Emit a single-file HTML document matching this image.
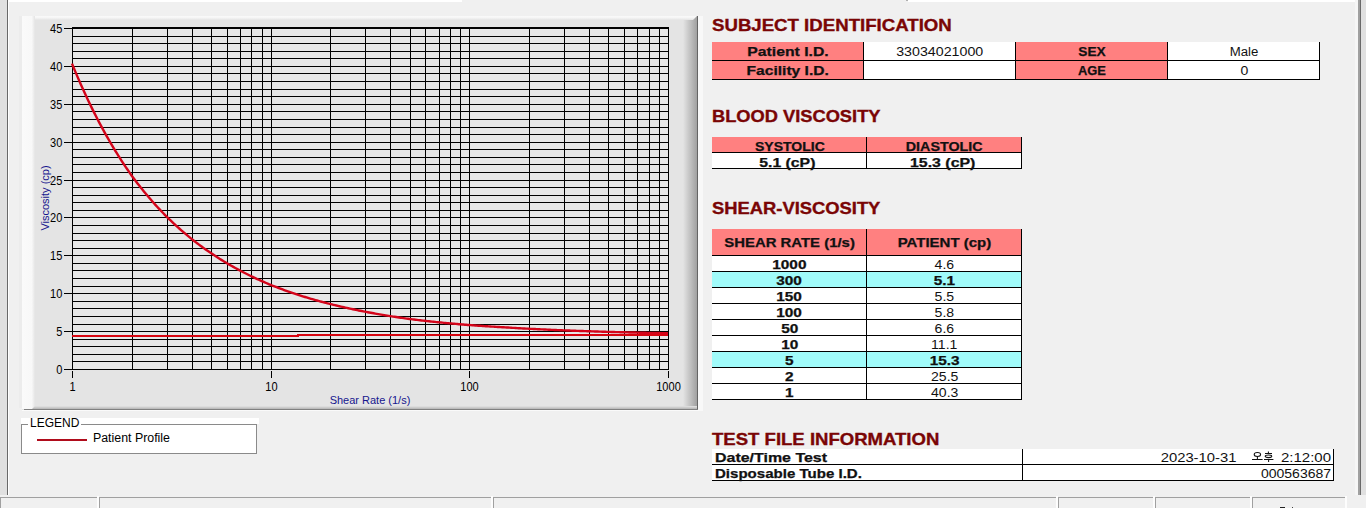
<!DOCTYPE html>
<html><head><meta charset="utf-8"><style>
*{margin:0;padding:0;box-sizing:border-box}
html,body{width:1366px;height:508px;overflow:hidden;background:#f0f0f0;font-family:"Liberation Sans",sans-serif}
.a{position:absolute}
.chart{position:absolute;left:0;top:0}
</style></head><body>
<div class="a" style="left:0;top:0;width:7px;height:495px;background:#e0e0e0"></div>
<div class="a" style="left:7px;top:0;width:1px;height:495px;background:#696969"></div>
<div class="a" style="left:8px;top:0;width:1px;height:495px;background:#fff"></div>
<div class="a" style="left:8px;top:0;width:454px;height:2px;background:#fff"></div>
<div class="a" style="left:908px;top:0;width:450px;height:2px;background:#fff"></div>
<div class="a" style="left:906px;top:0;width:2px;height:1px;background:#b0b0b0"></div>
<div class="a" style="left:1355px;top:0;width:3px;height:495px;background:#f6f6f6"></div>
<div class="a" style="left:1358px;top:0;width:2px;height:495px;background:#a0a0a0"></div>
<div class="a" style="left:1360px;top:0;width:1px;height:495px;background:#696969"></div>
<div class="a" style="left:1361px;top:0;width:5px;height:495px;background:#e0e0e0"></div>
<svg class="chart" width="1366" height="508" viewBox="0 0 1366 508">
<defs>
<linearGradient id="gl" x1="0" x2="1" y1="0" y2="0"><stop offset="0" stop-color="#fafafa"/><stop offset="0.75" stop-color="#f8f8f8"/><stop offset="1" stop-color="#e4e4e4"/></linearGradient>
<linearGradient id="gt" x1="0" x2="0" y1="0" y2="1"><stop offset="0" stop-color="#fafafa"/><stop offset="0.4" stop-color="#f6f6f6"/><stop offset="1" stop-color="#e4e4e4"/></linearGradient>
<linearGradient id="gr" x1="0" x2="1" y1="0" y2="0"><stop offset="0" stop-color="#e4e4e4"/><stop offset="1" stop-color="#a0a0a0"/></linearGradient>
<linearGradient id="gb" x1="0" x2="0" y1="0" y2="1"><stop offset="0" stop-color="#e4e4e4"/><stop offset="1" stop-color="#b4b4b4"/></linearGradient>
</defs>
<rect x="22" y="16" width="676" height="394" fill="#e4e4e4"/>
<rect x="683" y="16" width="14" height="394" fill="url(#gr)"/>
<polygon points="22,16 697,16 693,20 22,20" fill="url(#gt)"/>
<rect x="22" y="406" width="676" height="3" fill="url(#gb)"/>
<polygon points="22,16 35,16 35,406 32,409 22,409" fill="url(#gl)"/>
<rect x="19" y="16" width="3" height="392" fill="#ececec"/>
<rect x="697" y="16" width="1" height="394" fill="#646464"/>
<rect x="24" y="409" width="674" height="1" fill="#808080"/>
<rect x="698" y="16" width="5" height="395" fill="#f8f8f8"/>
<rect x="22" y="410" width="677" height="1" fill="#fafafa"/>
<g stroke="#000" stroke-width="1" shape-rendering="crispEdges">
<rect x="72" y="28" width="596" height="341" fill="#e7e7e7"/>
<line x1="72" y1="369.5" x2="669" y2="369.5"/>
<line x1="72" y1="361.5" x2="669" y2="361.5"/>
<line x1="72" y1="354.5" x2="669" y2="354.5"/>
<line x1="72" y1="346.5" x2="669" y2="346.5"/>
<line x1="72" y1="339.5" x2="669" y2="339.5"/>
<line x1="72" y1="331.5" x2="669" y2="331.5"/>
<line x1="72" y1="324.5" x2="669" y2="324.5"/>
<line x1="72" y1="316.5" x2="669" y2="316.5"/>
<line x1="72" y1="308.5" x2="669" y2="308.5"/>
<line x1="72" y1="301.5" x2="669" y2="301.5"/>
<line x1="72" y1="293.5" x2="669" y2="293.5"/>
<line x1="72" y1="286.5" x2="669" y2="286.5"/>
<line x1="72" y1="278.5" x2="669" y2="278.5"/>
<line x1="72" y1="270.5" x2="669" y2="270.5"/>
<line x1="72" y1="263.5" x2="669" y2="263.5"/>
<line x1="72" y1="255.5" x2="669" y2="255.5"/>
<line x1="72" y1="248.5" x2="669" y2="248.5"/>
<line x1="72" y1="240.5" x2="669" y2="240.5"/>
<line x1="72" y1="233.5" x2="669" y2="233.5"/>
<line x1="72" y1="225.5" x2="669" y2="225.5"/>
<line x1="72" y1="217.5" x2="669" y2="217.5"/>
<line x1="72" y1="210.5" x2="669" y2="210.5"/>
<line x1="72" y1="202.5" x2="669" y2="202.5"/>
<line x1="72" y1="195.5" x2="669" y2="195.5"/>
<line x1="72" y1="187.5" x2="669" y2="187.5"/>
<line x1="72" y1="180.5" x2="669" y2="180.5"/>
<line x1="72" y1="172.5" x2="669" y2="172.5"/>
<line x1="72" y1="164.5" x2="669" y2="164.5"/>
<line x1="72" y1="157.5" x2="669" y2="157.5"/>
<line x1="72" y1="149.5" x2="669" y2="149.5"/>
<line x1="72" y1="142.5" x2="669" y2="142.5"/>
<line x1="72" y1="134.5" x2="669" y2="134.5"/>
<line x1="72" y1="127.5" x2="669" y2="127.5"/>
<line x1="72" y1="119.5" x2="669" y2="119.5"/>
<line x1="72" y1="111.5" x2="669" y2="111.5"/>
<line x1="72" y1="104.5" x2="669" y2="104.5"/>
<line x1="72" y1="96.5" x2="669" y2="96.5"/>
<line x1="72" y1="89.5" x2="669" y2="89.5"/>
<line x1="72" y1="81.5" x2="669" y2="81.5"/>
<line x1="72" y1="73.5" x2="669" y2="73.5"/>
<line x1="72" y1="66.5" x2="669" y2="66.5"/>
<line x1="72" y1="58.5" x2="669" y2="58.5"/>
<line x1="72" y1="51.5" x2="669" y2="51.5"/>
<line x1="72" y1="43.5" x2="669" y2="43.5"/>
<line x1="72" y1="36.5" x2="669" y2="36.5"/>
<line x1="72" y1="28.5" x2="669" y2="28.5"/>
<line x1="72.5" y1="28" x2="72.5" y2="370"/>
<line x1="132.5" y1="28" x2="132.5" y2="370"/>
<line x1="167.5" y1="28" x2="167.5" y2="370"/>
<line x1="192.5" y1="28" x2="192.5" y2="370"/>
<line x1="211.5" y1="28" x2="211.5" y2="370"/>
<line x1="227.5" y1="28" x2="227.5" y2="370"/>
<line x1="240.5" y1="28" x2="240.5" y2="370"/>
<line x1="251.5" y1="28" x2="251.5" y2="370"/>
<line x1="262.5" y1="28" x2="262.5" y2="370"/>
<line x1="271.5" y1="28" x2="271.5" y2="370"/>
<line x1="330.5" y1="28" x2="330.5" y2="370"/>
<line x1="365.5" y1="28" x2="365.5" y2="370"/>
<line x1="390.5" y1="28" x2="390.5" y2="370"/>
<line x1="410.5" y1="28" x2="410.5" y2="370"/>
<line x1="425.5" y1="28" x2="425.5" y2="370"/>
<line x1="439.5" y1="28" x2="439.5" y2="370"/>
<line x1="450.5" y1="28" x2="450.5" y2="370"/>
<line x1="460.5" y1="28" x2="460.5" y2="370"/>
<line x1="469.5" y1="28" x2="469.5" y2="370"/>
<line x1="529.5" y1="28" x2="529.5" y2="370"/>
<line x1="564.5" y1="28" x2="564.5" y2="370"/>
<line x1="589.5" y1="28" x2="589.5" y2="370"/>
<line x1="608.5" y1="28" x2="608.5" y2="370"/>
<line x1="624.5" y1="28" x2="624.5" y2="370"/>
<line x1="637.5" y1="28" x2="637.5" y2="370"/>
<line x1="649.5" y1="28" x2="649.5" y2="370"/>
<line x1="659.5" y1="28" x2="659.5" y2="370"/>
<line x1="668.5" y1="28" x2="668.5" y2="370"/>
<line x1="72" y1="27.5" x2="669" y2="27.5"/>
<line x1="64" y1="369.5" x2="72" y2="369.5"/>
<line x1="64" y1="331.5" x2="72" y2="331.5"/>
<line x1="64" y1="293.5" x2="72" y2="293.5"/>
<line x1="64" y1="255.5" x2="72" y2="255.5"/>
<line x1="64" y1="217.5" x2="72" y2="217.5"/>
<line x1="64" y1="180.5" x2="72" y2="180.5"/>
<line x1="64" y1="142.5" x2="72" y2="142.5"/>
<line x1="64" y1="104.5" x2="72" y2="104.5"/>
<line x1="64" y1="66.5" x2="72" y2="66.5"/>
<line x1="64" y1="28.5" x2="72" y2="28.5"/>
<line x1="72.5" y1="371" x2="72.5" y2="378"/>
<line x1="271.5" y1="371" x2="271.5" y2="378"/>
<line x1="469.5" y1="371" x2="469.5" y2="378"/>
<line x1="668.5" y1="371" x2="668.5" y2="378"/>
</g>
<polyline points="72,336 298,336 298,335 668,335" fill="none" stroke="#d8040f" stroke-width="2" shape-rendering="crispEdges"/>
<polyline points="72.00,63.62 73.49,67.26 74.99,70.85 76.48,74.38 77.97,77.87 79.47,81.31 80.96,84.70 82.46,88.04 83.95,91.33 85.44,94.58 86.94,97.78 88.43,100.94 89.92,104.05 91.42,107.12 92.91,110.15 94.41,113.13 95.90,116.07 97.39,118.97 98.89,121.83 100.38,124.65 101.87,127.43 103.37,130.18 104.86,132.88 106.36,135.55 107.85,138.18 109.34,140.77 110.84,143.33 112.33,145.85 113.82,148.34 115.32,150.80 116.81,153.22 118.31,155.61 119.80,157.96 121.29,160.29 122.79,162.58 124.28,164.84 125.77,167.07 127.27,169.27 128.76,171.44 130.26,173.58 131.75,175.69 133.24,177.72 134.74,179.73 136.23,181.71 137.72,183.66 139.22,185.58 140.71,187.48 142.21,189.35 143.70,191.20 145.19,193.02 146.69,194.81 148.18,196.59 149.67,198.33 151.17,200.06 152.66,201.76 154.16,203.44 155.65,205.09 157.14,206.72 158.64,208.33 160.13,209.92 161.62,211.49 163.12,213.04 164.61,214.56 166.11,216.07 167.60,217.56 169.09,219.02 170.59,220.47 172.08,221.89 173.57,223.30 175.07,224.69 176.56,226.06 178.06,227.42 179.55,228.75 181.04,230.07 182.54,231.37 184.03,232.65 185.52,233.92 187.02,235.17 188.51,236.40 190.01,237.62 191.50,238.82 192.99,240.01 194.49,241.18 195.98,242.33 197.47,243.47 198.97,244.60 200.46,245.71 201.95,246.81 203.45,247.89 204.94,248.96 206.44,250.01 207.93,251.05 209.42,252.08 210.92,253.10 212.41,254.10 213.90,255.09 215.40,256.07 216.89,257.04 218.39,257.99 219.88,258.94 221.37,259.87 222.87,260.79 224.36,261.69 225.85,262.59 227.35,263.47 228.84,264.35 230.34,265.21 231.83,266.06 233.32,266.90 234.82,267.73 236.31,268.55 237.80,269.36 239.30,270.16 240.79,270.96 242.29,271.74 243.78,272.51 245.27,273.27 246.77,274.02 248.26,274.76 249.75,275.50 251.25,276.22 252.74,276.94 254.24,277.65 255.73,278.35 257.22,279.04 258.72,279.72 260.21,280.39 261.70,281.06 263.20,281.71 264.69,282.36 266.19,283.01 267.68,283.64 269.17,284.27 270.67,284.89 272.16,285.49 273.65,286.08 275.15,286.66 276.64,287.24 278.14,287.81 279.63,288.38 281.12,288.93 282.62,289.49 284.11,290.03 285.60,290.57 287.10,291.10 288.59,291.62 290.09,292.14 291.58,292.65 293.07,293.16 294.57,293.66 296.06,294.15 297.55,294.64 299.05,295.13 300.54,295.60 302.04,296.07 303.53,296.54 305.02,297.00 306.52,297.45 308.01,297.90 309.50,298.35 311.00,298.79 312.49,299.22 313.98,299.65 315.48,300.07 316.97,300.49 318.47,300.91 319.96,301.31 321.45,301.72 322.95,302.12 324.44,302.51 325.93,302.90 327.43,303.29 328.92,303.67 330.42,304.05 331.91,304.42 333.40,304.79 334.90,305.15 336.39,305.51 337.88,305.87 339.38,306.22 340.87,306.57 342.37,306.91 343.86,307.25 345.35,307.59 346.85,307.92 348.34,308.25 349.83,308.58 351.33,308.90 352.82,309.21 354.32,309.53 355.81,309.84 357.30,310.15 358.80,310.45 360.29,310.75 361.78,311.05 363.28,311.34 364.77,311.63 366.27,311.92 367.76,312.20 369.25,312.48 370.75,312.76 372.24,313.03 373.73,313.30 375.23,313.57 376.72,313.84 378.22,314.10 379.71,314.36 381.20,314.62 382.70,314.87 384.19,315.12 385.68,315.37 387.18,315.62 388.67,315.86 390.17,316.10 391.66,316.34 393.15,316.57 394.65,316.80 396.14,317.03 397.63,317.26 399.13,317.49 400.62,317.71 402.12,317.93 403.61,318.15 405.10,318.36 406.60,318.57 408.09,318.79 409.58,318.99 411.08,319.18 412.57,319.37 414.07,319.55 415.56,319.74 417.05,319.92 418.55,320.09 420.04,320.27 421.53,320.44 423.03,320.62 424.52,320.78 426.02,320.95 427.51,321.12 429.00,321.28 430.50,321.44 431.99,321.60 433.48,321.76 434.98,321.92 436.47,322.07 437.96,322.23 439.46,322.38 440.95,322.53 442.45,322.67 443.94,322.82 445.43,322.96 446.93,323.11 448.42,323.25 449.91,323.38 451.41,323.52 452.90,323.66 454.40,323.79 455.89,323.92 457.38,324.06 458.88,324.18 460.37,324.31 461.86,324.44 463.36,324.56 464.85,324.69 466.35,324.81 467.84,324.93 469.33,325.05 470.83,325.16 472.32,325.27 473.81,325.38 475.31,325.49 476.80,325.59 478.30,325.70 479.79,325.80 481.28,325.90 482.78,326.00 484.27,326.10 485.76,326.20 487.26,326.30 488.75,326.39 490.25,326.49 491.74,326.58 493.23,326.67 494.73,326.77 496.22,326.86 497.71,326.94 499.21,327.03 500.70,327.12 502.20,327.20 503.69,327.29 505.18,327.38 506.68,327.47 508.17,327.56 509.66,327.65 511.16,327.74 512.65,327.83 514.15,327.92 515.64,328.01 517.13,328.10 518.63,328.18 520.12,328.26 521.61,328.35 523.11,328.43 524.60,328.51 526.10,328.59 527.59,328.67 529.08,328.75 530.58,328.83 532.07,328.90 533.56,328.98 535.06,329.06 536.55,329.13 538.05,329.20 539.54,329.28 541.03,329.35 542.53,329.42 544.02,329.49 545.51,329.56 547.01,329.63 548.50,329.69 549.99,329.76 551.49,329.83 552.98,329.89 554.48,329.96 555.97,330.02 557.46,330.08 558.96,330.14 560.45,330.21 561.94,330.27 563.44,330.33 564.93,330.39 566.43,330.45 567.92,330.51 569.41,330.57 570.91,330.62 572.40,330.68 573.89,330.74 575.39,330.79 576.88,330.85 578.38,330.91 579.87,330.96 581.36,331.01 582.86,331.07 584.35,331.12 585.84,331.17 587.34,331.22 588.83,331.27 590.33,331.32 591.82,331.37 593.31,331.42 594.81,331.47 596.30,331.52 597.79,331.56 599.29,331.61 600.78,331.66 602.28,331.70 603.77,331.75 605.26,331.79 606.76,331.84 608.25,331.88 609.74,331.92 611.24,331.96 612.73,332.01 614.23,332.05 615.72,332.09 617.21,332.13 618.71,332.17 620.20,332.21 621.69,332.25 623.19,332.28 624.68,332.32 626.18,332.36 627.67,332.40 629.16,332.43 630.66,332.47 632.15,332.50 633.64,332.54 635.14,332.57 636.63,332.61 638.13,332.64 639.62,332.68 641.11,332.71 642.61,332.74 644.10,332.77 645.59,332.80 647.09,332.84 648.58,332.87 650.08,332.90 651.57,332.93 653.06,332.96 654.56,332.99 656.05,333.01 657.54,333.04 659.04,333.07 660.53,333.10 662.03,333.13 663.52,333.15 665.01,333.18 666.51,333.21 668.00,333.23" fill="none" stroke="#d4041a" stroke-width="2.4"/>
<g font-family="Liberation Sans, sans-serif" font-size="12" fill="#000">
<text transform="translate(62.3,374) scale(0.92,1)" text-anchor="end">0</text><text transform="translate(62.3,336) scale(0.92,1)" text-anchor="end">5</text><text transform="translate(62.3,298) scale(0.92,1)" text-anchor="end">10</text><text transform="translate(62.3,260) scale(0.92,1)" text-anchor="end">15</text><text transform="translate(62.3,222) scale(0.92,1)" text-anchor="end">20</text><text transform="translate(62.3,185) scale(0.92,1)" text-anchor="end">25</text><text transform="translate(62.3,147) scale(0.92,1)" text-anchor="end">30</text><text transform="translate(62.3,109) scale(0.92,1)" text-anchor="end">35</text><text transform="translate(62.3,71) scale(0.92,1)" text-anchor="end">40</text><text transform="translate(62.3,33) scale(0.92,1)" text-anchor="end">45</text>
<text transform="translate(72.5,391) scale(0.92,1)" text-anchor="middle">1</text><text transform="translate(271.5,391) scale(0.92,1)" text-anchor="middle">10</text><text transform="translate(469.5,391) scale(0.92,1)" text-anchor="middle">100</text><text transform="translate(668.5,391) scale(0.92,1)" text-anchor="middle">1000</text>
</g>
<text x="370" y="404" text-anchor="middle" font-family="Liberation Sans, sans-serif" font-size="11" fill="#16168e">Shear Rate (1/s)</text>
<text transform="translate(48.5,198) rotate(-90)" text-anchor="middle" font-family="Liberation Sans, sans-serif" font-size="11" fill="#16168e">Viscosity (cp)</text>
</svg>
<!-- legend -->
<div class="a" style="left:21px;top:424px;width:236px;height:30px;border:1px solid #8a8a8a;background:#fff"></div>
<div class="a" style="left:21px;top:418px;width:238px;height:6px;background:#fff"></div>
<div class="a" style="left:28px;top:418px;width:53px;height:10px;background:#fff"></div>
<div class="a" style="left:30px;top:416px;font-size:12px;line-height:14px;color:#000">LEGEND</div>
<div class="a" style="left:37px;top:439px;width:50px;height:2px;background:#b00c1c"></div>
<div class="a" style="left:93px;top:431px;font-size:12px;line-height:14px;color:#000;transform:scaleX(1.03);transform-origin:0 50%">Patient Profile</div>
<!-- right panel -->
<div class="a" style="left:712px;top:42px;width:152px;height:19px;background:#ff8080;border-right:1px solid #000;border-bottom:1px solid #000;"></div>
<div class="a" style="left:864px;top:42px;width:152px;height:19px;background:#fff;border-right:1px solid #000;border-bottom:1px solid #000;"></div>
<div class="a" style="left:1016px;top:42px;width:152px;height:19px;background:#ff8080;border-right:1px solid #000;border-bottom:1px solid #000;"></div>
<div class="a" style="left:1168px;top:42px;width:152px;height:19px;background:#fff;border-right:1px solid #000;border-bottom:1px solid #000;"></div>
<div class="a" style="left:712px;top:61px;width:152px;height:19px;background:#ff8080;border-right:1px solid #000;border-bottom:1px solid #000;"></div>
<div class="a" style="left:864px;top:61px;width:152px;height:19px;background:#fff;border-right:1px solid #000;border-bottom:1px solid #000;"></div>
<div class="a" style="left:1016px;top:61px;width:152px;height:19px;background:#ff8080;border-right:1px solid #000;border-bottom:1px solid #000;"></div>
<div class="a" style="left:1168px;top:61px;width:152px;height:19px;background:#fff;border-right:1px solid #000;border-bottom:1px solid #000;"></div>
<div class="a" style="left:388px;width:800px;text-align:center;top:45.84px;font-size:12px;line-height:12px;font-weight:bold;color:#111;white-space:nowrap;-webkit-text-stroke:0.25px #111;"><span style="display:inline-block;transform:scaleX(1.313);transform-origin:50% 50%">Patient I.D.</span></div>
<div class="a" style="left:540px;width:800px;text-align:center;top:45.84px;font-size:12px;line-height:12px;font-weight:normal;color:#111;white-space:nowrap;"><span style="display:inline-block;transform:scaleX(1.185);transform-origin:50% 50%">33034021000</span></div>
<div class="a" style="left:692px;width:800px;text-align:center;top:45.84px;font-size:12px;line-height:12px;font-weight:bold;color:#111;white-space:nowrap;-webkit-text-stroke:0.25px #111;"><span style="display:inline-block;transform:scaleX(1.14);transform-origin:50% 50%">SEX</span></div>
<div class="a" style="left:844px;width:800px;text-align:center;top:45.84px;font-size:12px;line-height:12px;font-weight:normal;color:#111;white-space:nowrap;"><span style="display:inline-block;transform:scaleX(1.1);transform-origin:50% 50%">Male</span></div>
<div class="a" style="left:388px;width:800px;text-align:center;top:64.84px;font-size:12px;line-height:12px;font-weight:bold;color:#111;white-space:nowrap;-webkit-text-stroke:0.25px #111;"><span style="display:inline-block;transform:scaleX(1.3);transform-origin:50% 50%">Facility I.D.</span></div>
<div class="a" style="left:692px;width:800px;text-align:center;top:64.84px;font-size:12px;line-height:12px;font-weight:bold;color:#111;white-space:nowrap;-webkit-text-stroke:0.25px #111;"><span style="display:inline-block;transform:scaleX(1.075);transform-origin:50% 50%">AGE</span></div>
<div class="a" style="left:844px;width:800px;text-align:center;top:64.84px;font-size:12px;line-height:12px;font-weight:normal;color:#111;white-space:nowrap;"><span style="display:inline-block;transform:scaleX(1.17);transform-origin:50% 50%">0</span></div>
<div class="a" style="left:712px;top:137px;width:155px;height:16px;background:#ff8080;border-right:1px solid #000;border-bottom:1px solid #000;"></div>
<div class="a" style="left:867px;top:137px;width:155px;height:16px;background:#ff8080;border-right:1px solid #000;border-bottom:1px solid #000;"></div>
<div class="a" style="left:712px;top:153px;width:155px;height:16px;background:#fff;border-right:1px solid #000;border-bottom:1px solid #000;"></div>
<div class="a" style="left:867px;top:153px;width:155px;height:16px;background:#fff;border-right:1px solid #000;border-bottom:1px solid #000;"></div>
<div class="a" style="left:389.5px;width:800px;text-align:center;top:140.84px;font-size:12px;line-height:12px;font-weight:bold;color:#111;white-space:nowrap;-webkit-text-stroke:0.25px #111;"><span style="display:inline-block;transform:scaleX(1.17);transform-origin:50% 50%">SYSTOLIC</span></div>
<div class="a" style="left:544.5px;width:800px;text-align:center;top:140.84px;font-size:12px;line-height:12px;font-weight:bold;color:#111;white-space:nowrap;-webkit-text-stroke:0.25px #111;"><span style="display:inline-block;transform:scaleX(1.193);transform-origin:50% 50%">DIASTOLIC</span></div>
<div class="a" style="left:387px;width:800px;text-align:center;top:156.84px;font-size:12px;line-height:12px;font-weight:bold;color:#111;white-space:nowrap;-webkit-text-stroke:0.25px #111;"><span style="display:inline-block;transform:scaleX(1.314);transform-origin:50% 50%">5.1 (cP)</span></div>
<div class="a" style="left:542.5px;width:800px;text-align:center;top:156.84px;font-size:12px;line-height:12px;font-weight:bold;color:#111;white-space:nowrap;-webkit-text-stroke:0.25px #111;"><span style="display:inline-block;transform:scaleX(1.323);transform-origin:50% 50%">15.3 (cP)</span></div>
<div class="a" style="left:712px;top:229px;width:155px;height:27px;background:#ff8080;border-right:1px solid #000;border-bottom:1px solid #000;"></div>
<div class="a" style="left:867px;top:229px;width:155px;height:27px;background:#ff8080;border-right:1px solid #000;border-bottom:1px solid #000;"></div>
<div class="a" style="left:389.5px;width:800px;text-align:center;top:236.84px;font-size:12px;line-height:12px;font-weight:bold;color:#111;white-space:nowrap;-webkit-text-stroke:0.25px #111;"><span style="display:inline-block;transform:scaleX(1.242);transform-origin:50% 50%">SHEAR RATE (1/s)</span></div>
<div class="a" style="left:544.5px;width:800px;text-align:center;top:236.84px;font-size:12px;line-height:12px;font-weight:bold;color:#111;white-space:nowrap;-webkit-text-stroke:0.25px #111;"><span style="display:inline-block;transform:scaleX(1.248);transform-origin:50% 50%">PATIENT (cp)</span></div>
<div class="a" style="left:712px;top:256px;width:155px;height:16px;background:#fff;border-right:1px solid #000;border-bottom:1px solid #000;"></div>
<div class="a" style="left:867px;top:256px;width:155px;height:16px;background:#fff;border-right:1px solid #000;border-bottom:1px solid #000;"></div>
<div class="a" style="left:389.5px;width:800px;text-align:center;top:258.84px;font-size:12px;line-height:12px;font-weight:bold;color:#111;white-space:nowrap;-webkit-text-stroke:0.25px #111;"><span style="display:inline-block;transform:scaleX(1.28);transform-origin:50% 50%">1000</span></div>
<div class="a" style="left:544.5px;width:800px;text-align:center;top:258.84px;font-size:12px;line-height:12px;font-weight:normal;color:#111;white-space:nowrap;"><span style="display:inline-block;transform:scaleX(1.17);transform-origin:50% 50%">4.6</span></div>
<div class="a" style="left:712px;top:272px;width:155px;height:16px;background:#a0fbfa;border-right:1px solid #000;border-bottom:1px solid #000;"></div>
<div class="a" style="left:867px;top:272px;width:155px;height:16px;background:#a0fbfa;border-right:1px solid #000;border-bottom:1px solid #000;"></div>
<div class="a" style="left:389.5px;width:800px;text-align:center;top:274.84px;font-size:12px;line-height:12px;font-weight:bold;color:#111;white-space:nowrap;-webkit-text-stroke:0.25px #111;"><span style="display:inline-block;transform:scaleX(1.28);transform-origin:50% 50%">300</span></div>
<div class="a" style="left:544.5px;width:800px;text-align:center;top:274.84px;font-size:12px;line-height:12px;font-weight:bold;color:#111;white-space:nowrap;-webkit-text-stroke:0.25px #111;"><span style="display:inline-block;transform:scaleX(1.28);transform-origin:50% 50%">5.1</span></div>
<div class="a" style="left:712px;top:288px;width:155px;height:16px;background:#fff;border-right:1px solid #000;border-bottom:1px solid #000;"></div>
<div class="a" style="left:867px;top:288px;width:155px;height:16px;background:#fff;border-right:1px solid #000;border-bottom:1px solid #000;"></div>
<div class="a" style="left:389.5px;width:800px;text-align:center;top:290.84px;font-size:12px;line-height:12px;font-weight:bold;color:#111;white-space:nowrap;-webkit-text-stroke:0.25px #111;"><span style="display:inline-block;transform:scaleX(1.28);transform-origin:50% 50%">150</span></div>
<div class="a" style="left:544.5px;width:800px;text-align:center;top:290.84px;font-size:12px;line-height:12px;font-weight:normal;color:#111;white-space:nowrap;"><span style="display:inline-block;transform:scaleX(1.17);transform-origin:50% 50%">5.5</span></div>
<div class="a" style="left:712px;top:304px;width:155px;height:16px;background:#fff;border-right:1px solid #000;border-bottom:1px solid #000;"></div>
<div class="a" style="left:867px;top:304px;width:155px;height:16px;background:#fff;border-right:1px solid #000;border-bottom:1px solid #000;"></div>
<div class="a" style="left:389.5px;width:800px;text-align:center;top:306.84px;font-size:12px;line-height:12px;font-weight:bold;color:#111;white-space:nowrap;-webkit-text-stroke:0.25px #111;"><span style="display:inline-block;transform:scaleX(1.28);transform-origin:50% 50%">100</span></div>
<div class="a" style="left:544.5px;width:800px;text-align:center;top:306.84px;font-size:12px;line-height:12px;font-weight:normal;color:#111;white-space:nowrap;"><span style="display:inline-block;transform:scaleX(1.17);transform-origin:50% 50%">5.8</span></div>
<div class="a" style="left:712px;top:320px;width:155px;height:16px;background:#fff;border-right:1px solid #000;border-bottom:1px solid #000;"></div>
<div class="a" style="left:867px;top:320px;width:155px;height:16px;background:#fff;border-right:1px solid #000;border-bottom:1px solid #000;"></div>
<div class="a" style="left:389.5px;width:800px;text-align:center;top:322.84px;font-size:12px;line-height:12px;font-weight:bold;color:#111;white-space:nowrap;-webkit-text-stroke:0.25px #111;"><span style="display:inline-block;transform:scaleX(1.28);transform-origin:50% 50%">50</span></div>
<div class="a" style="left:544.5px;width:800px;text-align:center;top:322.84px;font-size:12px;line-height:12px;font-weight:normal;color:#111;white-space:nowrap;"><span style="display:inline-block;transform:scaleX(1.17);transform-origin:50% 50%">6.6</span></div>
<div class="a" style="left:712px;top:336px;width:155px;height:16px;background:#fff;border-right:1px solid #000;border-bottom:1px solid #000;"></div>
<div class="a" style="left:867px;top:336px;width:155px;height:16px;background:#fff;border-right:1px solid #000;border-bottom:1px solid #000;"></div>
<div class="a" style="left:389.5px;width:800px;text-align:center;top:338.84px;font-size:12px;line-height:12px;font-weight:bold;color:#111;white-space:nowrap;-webkit-text-stroke:0.25px #111;"><span style="display:inline-block;transform:scaleX(1.28);transform-origin:50% 50%">10</span></div>
<div class="a" style="left:544.5px;width:800px;text-align:center;top:338.84px;font-size:12px;line-height:12px;font-weight:normal;color:#111;white-space:nowrap;"><span style="display:inline-block;transform:scaleX(1.17);transform-origin:50% 50%">11.1</span></div>
<div class="a" style="left:712px;top:352px;width:155px;height:16px;background:#a0fbfa;border-right:1px solid #000;border-bottom:1px solid #000;"></div>
<div class="a" style="left:867px;top:352px;width:155px;height:16px;background:#a0fbfa;border-right:1px solid #000;border-bottom:1px solid #000;"></div>
<div class="a" style="left:389.5px;width:800px;text-align:center;top:354.84px;font-size:12px;line-height:12px;font-weight:bold;color:#111;white-space:nowrap;-webkit-text-stroke:0.25px #111;"><span style="display:inline-block;transform:scaleX(1.28);transform-origin:50% 50%">5</span></div>
<div class="a" style="left:544.5px;width:800px;text-align:center;top:354.84px;font-size:12px;line-height:12px;font-weight:bold;color:#111;white-space:nowrap;-webkit-text-stroke:0.25px #111;"><span style="display:inline-block;transform:scaleX(1.28);transform-origin:50% 50%">15.3</span></div>
<div class="a" style="left:712px;top:368px;width:155px;height:16px;background:#fff;border-right:1px solid #000;border-bottom:1px solid #000;"></div>
<div class="a" style="left:867px;top:368px;width:155px;height:16px;background:#fff;border-right:1px solid #000;border-bottom:1px solid #000;"></div>
<div class="a" style="left:389.5px;width:800px;text-align:center;top:370.84px;font-size:12px;line-height:12px;font-weight:bold;color:#111;white-space:nowrap;-webkit-text-stroke:0.25px #111;"><span style="display:inline-block;transform:scaleX(1.28);transform-origin:50% 50%">2</span></div>
<div class="a" style="left:544.5px;width:800px;text-align:center;top:370.84px;font-size:12px;line-height:12px;font-weight:normal;color:#111;white-space:nowrap;"><span style="display:inline-block;transform:scaleX(1.17);transform-origin:50% 50%">25.5</span></div>
<div class="a" style="left:712px;top:384px;width:155px;height:16px;background:#fff;border-right:1px solid #000;border-bottom:1px solid #000;"></div>
<div class="a" style="left:867px;top:384px;width:155px;height:16px;background:#fff;border-right:1px solid #000;border-bottom:1px solid #000;"></div>
<div class="a" style="left:389.5px;width:800px;text-align:center;top:386.84px;font-size:12px;line-height:12px;font-weight:bold;color:#111;white-space:nowrap;-webkit-text-stroke:0.25px #111;"><span style="display:inline-block;transform:scaleX(1.28);transform-origin:50% 50%">1</span></div>
<div class="a" style="left:544.5px;width:800px;text-align:center;top:386.84px;font-size:12px;line-height:12px;font-weight:normal;color:#111;white-space:nowrap;"><span style="display:inline-block;transform:scaleX(1.17);transform-origin:50% 50%">40.3</span></div>
<div class="a" style="left:712px;top:449px;width:311px;height:16px;background:#fff;border-right:1px solid #000;border-bottom:1px solid #000;"></div>
<div class="a" style="left:1023px;top:449px;width:311px;height:16px;background:#fff;border-right:1px solid #000;border-bottom:1px solid #000;"></div>
<div class="a" style="left:712px;top:465px;width:311px;height:16px;background:#fff;border-right:1px solid #000;border-bottom:1px solid #000;"></div>
<div class="a" style="left:1023px;top:465px;width:311px;height:16px;background:#fff;border-right:1px solid #000;border-bottom:1px solid #000;"></div>
<div class="a" style="left:715px;top:451.84px;font-size:12px;line-height:12px;font-weight:bold;color:#111;white-space:nowrap;-webkit-text-stroke:0.25px #111;"><span style="display:inline-block;transform:scaleX(1.33);transform-origin:0 50%">Date/Time Test</span></div>
<div class="a" style="left:715px;top:467.84px;font-size:12px;line-height:12px;font-weight:bold;color:#111;white-space:nowrap;-webkit-text-stroke:0.25px #111;"><span style="display:inline-block;transform:scaleX(1.254);transform-origin:0 50%">Disposable Tube I.D.</span></div>
<div class="a" style="left:436px;width:800px;text-align:right;top:451.84px;font-size:12px;line-height:12px;font-weight:normal;color:#111;white-space:nowrap;"><span style="display:inline-block;transform:scaleX(1.233);transform-origin:100% 50%">2023-10-31</span></div>
<div class="a" style="left:531px;width:800px;text-align:right;top:451.84px;font-size:12px;line-height:12px;font-weight:normal;color:#111;white-space:nowrap;"><span style="display:inline-block;transform:scaleX(1.251);transform-origin:100% 50%">2:12:00</span></div>
<div class="a" style="left:531px;width:800px;text-align:right;top:467.84px;font-size:12px;line-height:12px;font-weight:normal;color:#111;white-space:nowrap;"><span style="display:inline-block;transform:scaleX(1.167);transform-origin:100% 50%">000563687</span></div>
<div class="a" style="left:712px;top:17.03px;font-size:16.5px;line-height:16.5px;font-weight:bold;color:#7a0505;white-space:nowrap;-webkit-text-stroke:0.35px #7a0505;"><span style="display:inline-block;transform:scaleX(1.129);transform-origin:0 50%">SUBJECT IDENTIFICATION</span></div>
<div class="a" style="left:712px;top:108.03px;font-size:16.5px;line-height:16.5px;font-weight:bold;color:#7a0505;white-space:nowrap;-webkit-text-stroke:0.35px #7a0505;"><span style="display:inline-block;transform:scaleX(1.107);transform-origin:0 50%">BLOOD VISCOSITY</span></div>
<div class="a" style="left:712px;top:200.03px;font-size:16.5px;line-height:16.5px;font-weight:bold;color:#7a0505;white-space:nowrap;-webkit-text-stroke:0.35px #7a0505;"><span style="display:inline-block;transform:scaleX(1.113);transform-origin:0 50%">SHEAR-VISCOSITY</span></div>
<div class="a" style="left:712px;top:431.03px;font-size:16.5px;line-height:16.5px;font-weight:bold;color:#7a0505;white-space:nowrap;-webkit-text-stroke:0.35px #7a0505;"><span style="display:inline-block;transform:scaleX(1.124);transform-origin:0 50%">TEST FILE INFORMATION</span></div>
<svg class="a" style="left:1250px;top:450px" width="26" height="14" viewBox="1250 450 26 14" fill="none" stroke="#111" stroke-width="1.05">
<ellipse cx="1257.4" cy="454.5" rx="3.2" ry="2.0"/>
<line x1="1257.4" y1="456.6" x2="1257.4" y2="459.4"/>
<line x1="1252" y1="459.5" x2="1262.6" y2="459.5"/>
<line x1="1268.4" y1="451.6" x2="1268.4" y2="453"/>
<line x1="1265" y1="453.5" x2="1272" y2="453.5"/>
<ellipse cx="1268.5" cy="456.3" rx="3.3" ry="1.3"/>
<line x1="1264" y1="459.5" x2="1273.4" y2="459.5"/>
<line x1="1268.6" y1="459.5" x2="1268.6" y2="462"/>
</svg>
<div class="a" style="left:0px;top:497px;width:97px;height:1px;background:#a0a0a0"></div>
<div class="a" style="left:0px;top:497px;width:1px;height:11px;background:#a0a0a0"></div>
<div class="a" style="left:97px;top:496px;width:2px;height:12px;background:#fdfdfd"></div>
<div class="a" style="left:99px;top:497px;width:392px;height:1px;background:#a0a0a0"></div>
<div class="a" style="left:99px;top:497px;width:1px;height:11px;background:#a0a0a0"></div>
<div class="a" style="left:491px;top:496px;width:2px;height:12px;background:#fdfdfd"></div>
<div class="a" style="left:493px;top:497px;width:563px;height:1px;background:#a0a0a0"></div>
<div class="a" style="left:493px;top:497px;width:1px;height:11px;background:#a0a0a0"></div>
<div class="a" style="left:1056px;top:496px;width:2px;height:12px;background:#fdfdfd"></div>
<div class="a" style="left:1058px;top:497px;width:95px;height:1px;background:#a0a0a0"></div>
<div class="a" style="left:1058px;top:497px;width:1px;height:11px;background:#a0a0a0"></div>
<div class="a" style="left:1153px;top:496px;width:2px;height:12px;background:#fdfdfd"></div>
<div class="a" style="left:1155px;top:497px;width:95px;height:1px;background:#a0a0a0"></div>
<div class="a" style="left:1155px;top:497px;width:1px;height:11px;background:#a0a0a0"></div>
<div class="a" style="left:1250px;top:496px;width:2px;height:12px;background:#fdfdfd"></div>
<div class="a" style="left:1252px;top:497px;width:93px;height:1px;background:#a0a0a0"></div>
<div class="a" style="left:1252px;top:497px;width:1px;height:11px;background:#a0a0a0"></div>
<div class="a" style="left:1345px;top:496px;width:2px;height:12px;background:#fdfdfd"></div>
<div class="a" style="left:1280px;top:507px;width:5px;height:1px;background:#222"></div>
<div class="a" style="left:1292px;top:507px;width:1px;height:1px;background:#444"></div>
</body></html>
